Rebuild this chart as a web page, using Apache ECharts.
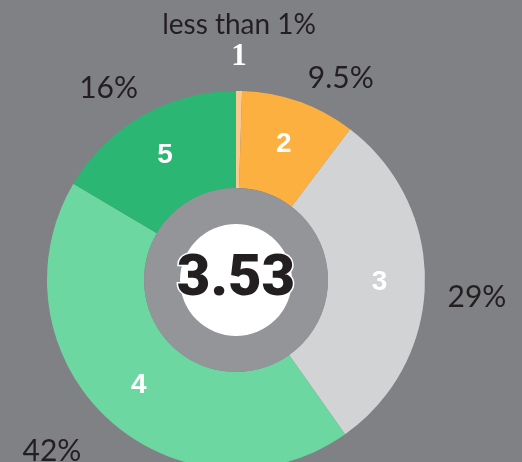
<!DOCTYPE html>
<html>
<head>
<meta charset="utf-8">
<title>Ratings</title>
<script src="https://cdn.jsdelivr.net/npm/echarts@6/dist/echarts.min.js"></script>
<style>
  html, body { margin: 0; padding: 0; background: #808185; }
  #chart { width: 522px; height: 462px; }
</style>
</head>
<body>
<div id="chart"></div>
<script>
/****** DATA ******/
var ratings = ['1', '2', '3', '4', '5'];
var shares = [0.5, 9.5, 29, 42, 16];
var shareLabels = ['less than 1%', '9.5%', '29%', '42%', '16%'];
var avgScore = '3.53';

/****** STYLE ******/
var sliceColors = ['#F9C98F', '#FBB040', '#D1D3D4', '#6DD7A2', '#2BB673'];
var labelOffsets = [[0, 0], [25, 24], [2, 13], [-22, -4], [-9, 16]];
var center = [236, 280];

var myChart = echarts.init(document.getElementById('chart'));

// main donut slices, numbers inside
// the tiny slice 1 has no room, so its number + share go above the ring
var mainData = ratings.map(function (r, i) {
    var item = {
        name: r,
        value: shares[i],
        itemStyle: { color: sliceColors[i] }
    };
    if (i === 0) {
        item.label = {
            position: 'outside',
            formatter: '{a|' + shareLabels[i] + '}\n{b|' + r + '}',
            width: 170,
            offset: [-90, -50]
        };
        item.labelLine = { show: false, length: 0, length2: 0 };
    }
    return item;
});

// invisible outer ring that carries the percent labels
var outerData = ratings.map(function (r, i) {
    return {
        name: r,
        value: shares[i],
        itemStyle: { color: 'transparent' },
        label: {
            show: i > 0,
            offset: labelOffsets[i],
            formatter: shareLabels[i]
        }
    };
});

var option = {
    backgroundColor: '#808185',
    animation: false,
    series: [{
        type: 'pie',
        center: center,
        radius: [92, 189],
        startAngle: 90,
        clockwise: true,
        silent: true,
        avoidLabelOverlap: false,
        minShowLabelAngle: 0,
        labelLayout: { hideOverlap: false },
        itemStyle: { borderWidth: 0 },
        label: {
            position: 'inside',
            formatter: '{b}',
            color: '#ffffff',
            fontFamily: 'Liberation Sans',
            fontWeight: 'bold',
            fontSize: 28,
            rich: {
                a: {
                    align: 'center', color: '#231F20', fontFamily: 'Lato',
                    fontWeight: 'normal', fontSize: 28, lineHeight: 32
                },
                b: {
                    align: 'center', color: '#ffffff', fontFamily: 'Liberation Serif',
                    fontWeight: 'bold', fontSize: 31, lineHeight: 32
                }
            }
        },
        labelLine: { show: false },
        data: mainData
    }, {
        type: 'pie',
        center: center,
        radius: [190, 282],
        startAngle: 90,
        clockwise: true,
        silent: true,
        avoidLabelOverlap: false,
        minShowLabelAngle: 0,
        labelLayout: { hideOverlap: false },
        itemStyle: { borderWidth: 0 },
        label: {
            position: 'inside',
            color: '#231F20',
            fontFamily: 'Lato',
            fontWeight: 'normal',
            fontSize: 30
        },
        labelLine: { show: false },
        data: outerData
    }, {
        // grey inner ring
        type: 'pie',
        center: center,
        radius: [56, 92],
        silent: true,
        label: { show: false },
        itemStyle: { color: '#939598', borderWidth: 0 },
        data: [1]
    }, {
        // white hub with the average score
        type: 'pie',
        center: center,
        radius: [0, 56],
        silent: true,
        itemStyle: { color: '#ffffff', borderWidth: 0 },
        label: {
            show: true,
            position: 'center',
            formatter: avgScore,
            color: '#231F20',
            fontFamily: 'Roboto',
            fontWeight: 900,
            fontSize: 58,
            textBorderColor: '#ffffff',
            textBorderWidth: 3
        },
        labelLine: { show: false },
        data: [1]
    }]
};

myChart.setOption(option);
</script>
</body>
</html>
